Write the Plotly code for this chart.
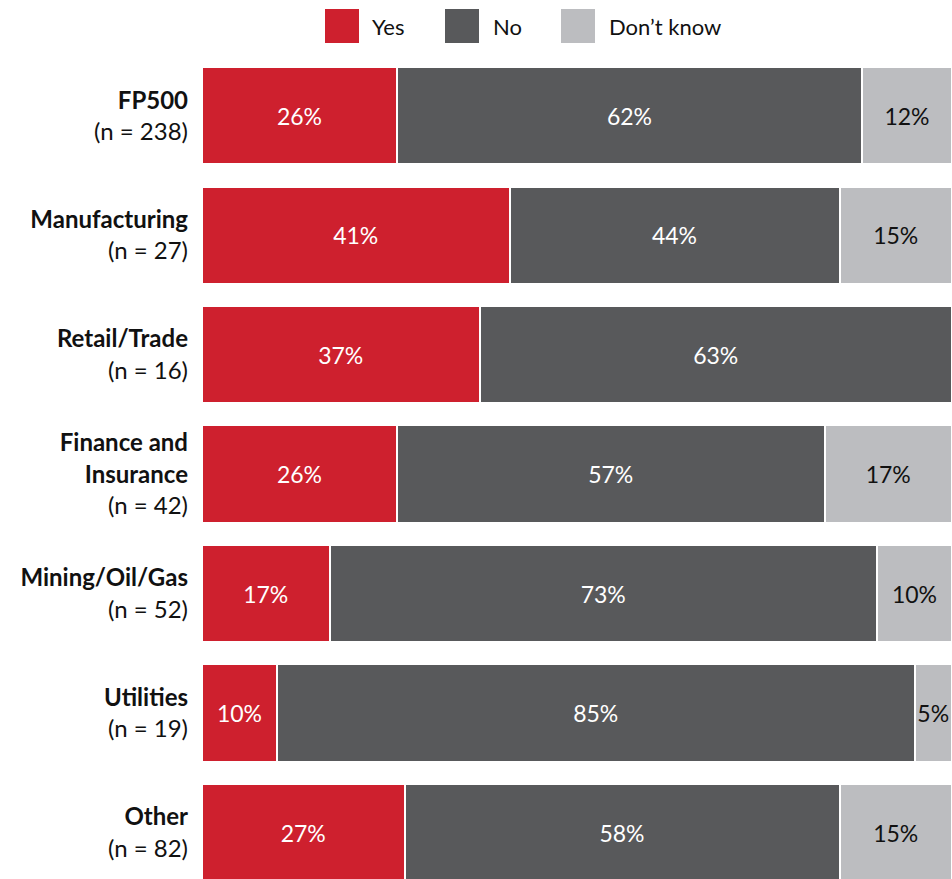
import plotly.graph_objects as go

# Survey responses by sector (percent of respondents)
sectors = ["FP500", "Manufacturing", "Retail/Trade", "Finance and<br>Insurance",
           "Mining/Oil/Gas", "Utilities", "Other"]
sample_sizes = [238, 27, 16, 42, 52, 19, 82]
yes_pct = [26, 41, 37, 26, 17, 10, 27]
no_pct = [62, 44, 63, 57, 73, 85, 58]
dont_know_pct = [12, 15, 0, 17, 10, 5, 15]

series_names = ["Yes", "No", "Don\u2019t know"]
series_colors = ["#CE202E", "#58595B", "#BCBDC0"]
text_colors = ["#FFFFFF", "#FFFFFF", "#111111"]
series_values = [yes_pct, no_pct, dont_know_pct]

FONT = "Lato, 'Open Sans', sans-serif"

tick_text = [f"<b>{s}</b><br>(n = {n})" for s, n in zip(sectors, sample_sizes)]
y_idx = list(range(len(sectors)))

fig = go.Figure()
for name, color, tcolor, vals in zip(series_names, series_colors, text_colors, series_values):
    fig.add_trace(go.Bar(
        y=y_idx,
        x=vals,
        orientation="h",
        name=name,
        marker=dict(color=color, line=dict(color="white", width=2)),
        text=[f"{v}%" if v > 0 else "" for v in vals],
        textposition="inside",
        insidetextanchor="middle",
        textangle=0,
        constraintext="none",
        textfont=dict(family=FONT, size=23, color=tcolor),
        showlegend=False,
        hoverinfo="skip",
    ))

fig.update_layout(
    barmode="stack",
    bargap=0.185,
    width=952,
    height=879,
    margin=dict(l=202, r=0, t=56, b=0),
    paper_bgcolor="white",
    plot_bgcolor="white",
    font=dict(family=FONT, size=23, color="#111111"),
    xaxis=dict(range=[0, 100], visible=False, fixedrange=True),
    yaxis=dict(
        tickmode="array",
        tickvals=y_idx,
        ticktext=tick_text,
        range=[6.389, -0.5],
        showgrid=False,
        zeroline=False,
        showline=False,
        ticks="",
        ticklabelstandoff=13,
        tickfont=dict(family=FONT, size=24, color="#111111"),
    ),
)

# Legend drawn as large swatches above the plot (paper coordinates)
plot_w = 750.0
plot_h = 879 - 56.0
def px_x(px):
    return (px - 202) / plot_w
def px_y(py):
    return (879 - py) / plot_h

swatch_left = [325, 445, 561]
label_left = [370, 491, 607]
for name, color, sx, lx in zip(series_names, series_colors, swatch_left, label_left):
    fig.add_shape(type="rect", xref="paper", yref="paper",
                  x0=px_x(sx), x1=px_x(sx + 34), y0=px_y(43), y1=px_y(9),
                  fillcolor=color, line=dict(width=0))
    fig.add_annotation(xref="paper", yref="paper", x=px_x(lx), y=px_y(27),
                       xanchor="left", yanchor="middle", showarrow=False,
                       text=name, font=dict(family=FONT, size=22, color="#111111"))

fig.write_html("out.html")
